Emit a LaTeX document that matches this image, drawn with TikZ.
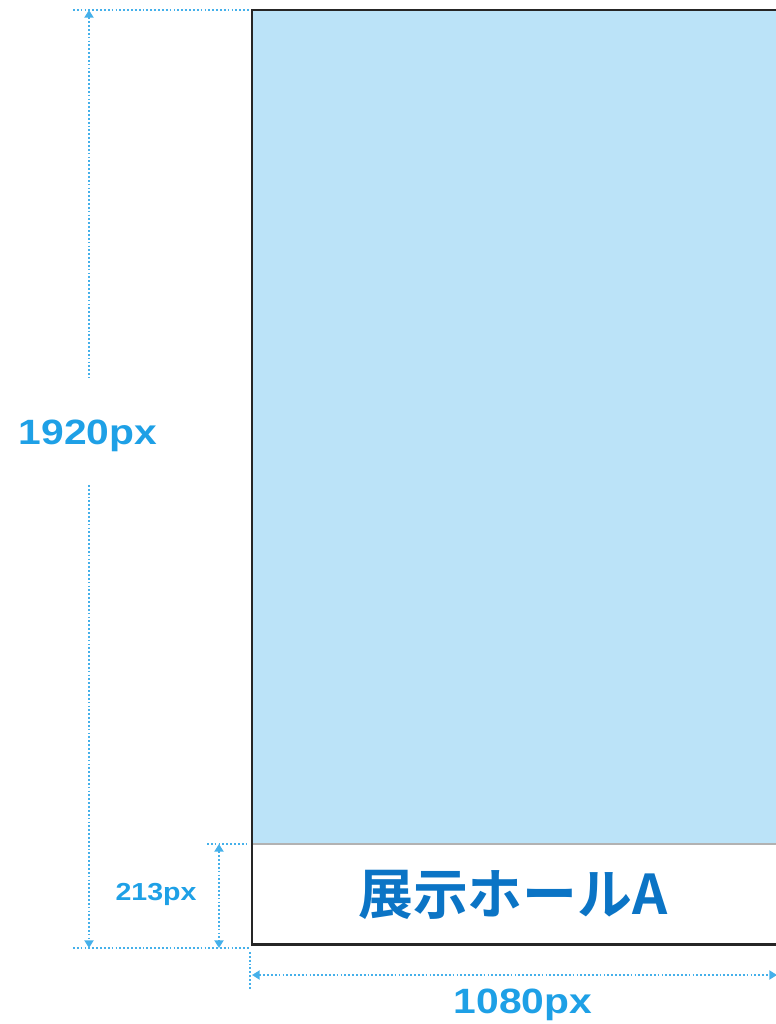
\documentclass[tikz,border=0pt]{standalone}
\usepackage{fontspec}
\usepackage{tikz}
\usetikzlibrary{calc}
\usetikzlibrary{positioning}
\usetikzlibrary{arrows.meta}
\newfontfamily\jpfont{Noto Sans CJK JP}[BoldFont={Noto Sans CJK JP Bold}]
\newfontfamily\dimfont{Liberation Sans}[FakeStretch=1.16]
\definecolor{hallblue}{HTML}{BBE3F8}
\definecolor{titleblue}{HTML}{0B74C5}
\definecolor{dimblue}{HTML}{1EA0E6}
\definecolor{dotblue}{HTML}{45B0EA}

\begin{document}
\begin{tikzpicture}[x=0.01cm, y=-0.01cm]

                \def\L{252}
                \def\R{800}
                \def\T{10}
                \def\B{944}
                \def\S{844}

                % dotted dimension lines and their labels
                \tikzset{
                    dimline/.style={dotblue, line width=0.5pt,
                        dash pattern=on 0.5pt off 0.6pt},
                    dimarrow/.style={dimline,
                        {Triangle[length=2.2pt,width=2.6pt,fill=dotblue]}-{Triangle[length=2.2pt,width=2.6pt,fill=dotblue]}},
                    dimlabel/.style={text=dimblue},
                }

                \useasboundingbox (0,0) rectangle (776,1024);

                % Scope used for the screen and its caption band
                \begin{scope}
                    \fill[hallblue] (\L,\T) rectangle (\R,\S);
                    \draw[gray!60, line width=0.3pt] (\L,\S) -- (\R,\S);
                    \draw[black!85, line width=0.85pt] (\R,\T) -- (\L,\T)
                        -- (\L,\B) -- (\R,\B);
                    \node (title) [text=titleblue, font=\jpfont\bfseries\fontsize{15.6}{15.6}\selectfont]
                        at (513,895) {展示ホールA};
                \end{scope}

                % corners the dimensions refer to
                \coordinate (tl) at (73,\T);
                \coordinate (tr) at (250,\T);
                \coordinate (bl) at (73,948);
                \coordinate (br) at (250,948);
                \coordinate (sl) at (207,\S);
                \coordinate (sr) at (247,\S);
                \coordinate (lt) at (250,952);
                \coordinate (lb) at (250,990);
                \coordinate (htop) at (89,\T);
                \coordinate (hgap1) at (89,378);
                \coordinate (hgap2) at (89,485);
                \coordinate (hbot) at (89,948);
                \coordinate (ftop) at (219,\S);
                \coordinate (fbot) at (219,948);
                \coordinate (wl) at (252,975);
                \coordinate (wr) at (777,975);

                \node (height) [dimlabel, font=\dimfont\bfseries\fontsize{10}{10}\selectfont]
                    at (88,436) {1920px};
                \node (foot) [dimlabel, font=\dimfont\bfseries\fontsize{7}{7}\selectfont]
                    at (156,894) {213px};
                \node (width) [dimlabel, font=\dimfont\bfseries\fontsize{10}{10}\selectfont]
                    at (523,1005) {1080px};

                \begin{scope}
                    \draw[dimline] (tl) -- (tr);
                    \draw[dimline] (bl) -- (br);
                    \draw[dimline] (sl) -- (sr);
                    \draw[dimline] (lt) -- (lb);
                    \draw[dimline, {Triangle[length=2.2pt,width=2.6pt,fill=dotblue]}-] (htop) -- (hgap1);
                    \draw[dimline, -{Triangle[length=2.2pt,width=2.6pt,fill=dotblue]}] (hgap2) -- (hbot);
                    \draw[dimarrow] (ftop) -- (fbot);
                    \draw[dimarrow] (wl) -- (wr);
                \end{scope}

                \end{tikzpicture}
\end{document}
